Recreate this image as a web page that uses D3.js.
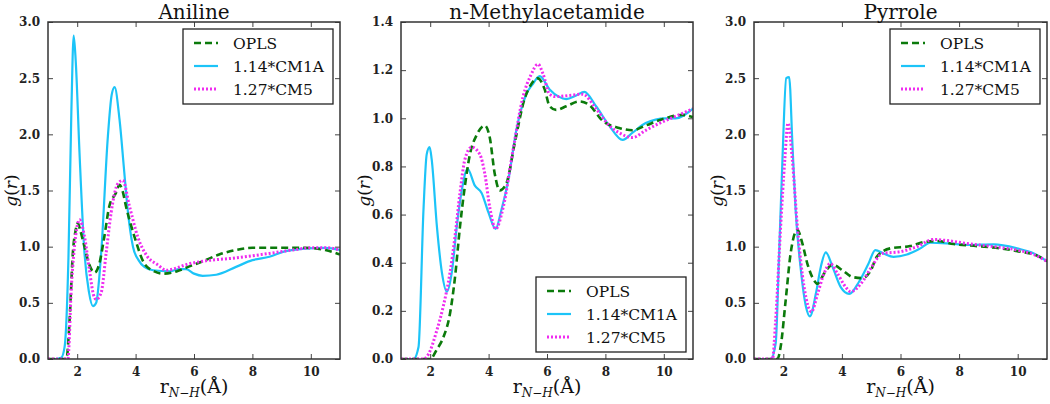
<!DOCTYPE html>
<html><head><meta charset="utf-8">
<script src="https://cdn.jsdelivr.net/npm/d3@7"></script>
<style>body{margin:0;background:#fff}svg{display:block}</style>
</head><body><svg id="c" width="1050" height="404"></svg>
<script>
const titles = ["Aniline", "n-Methylacetamide", "Pyrrole"];
const seriesNames = ["OPLS", "1.14*CM1A", "1.27*CM5"];
const xTicks = [2, 4, 6, 8, 10];
const yTicksA = [0, 0.5, 1.0, 1.5, 2.0, 2.5, 3.0];
const yTicksB = [0, 0.2, 0.4, 0.6, 0.8, 1.0, 1.2, 1.4];

const anilineOPLS = [[1,0],[1.25,0],[1.63,0],[1.74,0.35],[1.85,0.94],[1.95,1.15],[2.02,1.21],[2.1,1.15],[2.25,1.0],[2.4,0.85],[2.6,0.77],[2.76,0.85],[2.93,1.09],[3.1,1.36],[3.33,1.48],[3.45,1.55],[3.55,1.5],[3.67,1.36],[3.96,1.09],[4.3,0.85],[4.64,0.78],[4.94,0.76],[5.4,0.78],[5.8,0.82],[6.3,0.87],[6.86,0.93],[7.43,0.97],[8.0,0.99],[9.14,0.99],[9.8,0.99],[10.5,0.97],[11,0.93]];
const anilineCM1A = [[1,0],[1.25,0],[1.45,0.01],[1.57,0.11],[1.7,0.9],[1.8,2.2],[1.88,2.88],[1.95,2.65],[2.08,1.83],[2.25,0.94],[2.4,0.6],[2.54,0.47],[2.65,0.5],[2.82,0.94],[3.05,1.98],[3.18,2.35],[3.28,2.42],[3.45,2.13],[3.6,1.7],[3.72,1.35],[3.91,1.0],[4.1,0.88],[4.3,0.82],[4.6,0.79],[5.16,0.78],[5.5,0.8],[5.73,0.8],[6.0,0.76],[6.3,0.74],[6.76,0.75],[7.44,0.82],[8.0,0.88],[8.58,0.91],[9.14,0.96],[9.7,0.98],[10.5,0.99],[11,0.97]];
const anilineCM5 = [[1,0],[1.25,0],[1.68,0],[1.8,0.64],[1.95,1.1],[2.08,1.24],[2.25,1.09],[2.42,0.79],[2.55,0.58],[2.65,0.53],[2.82,0.59],[2.99,0.94],[3.16,1.3],[3.39,1.56],[3.56,1.59],[3.79,1.36],[4.07,1.09],[4.41,0.91],[4.75,0.84],[5.05,0.79],[5.4,0.81],[5.73,0.84],[6.3,0.87],[7.44,0.9],[8.58,0.94],[9.37,0.97],[10.05,0.99],[10.6,0.99],[11,0.97]];

const nmaOPLS = [[1,0],[1.25,0],[2.0,0],[2.23,0.04],[2.45,0.09],[2.68,0.19],[2.85,0.34],[3.02,0.55],[3.19,0.72],[3.36,0.85],[3.59,0.93],[3.87,0.97],[4.04,0.92],[4.21,0.77],[4.38,0.7],[4.61,0.73],[4.9,0.9],[5.23,1.08],[5.45,1.14],[5.69,1.166],[5.92,1.12],[6.09,1.05],[6.31,1.035],[6.66,1.05],[7.11,1.07],[7.45,1.055],[7.9,0.99],[8.47,0.96],[8.93,0.95],[9.38,0.97],[9.95,0.996],[10.63,1.014],[11,1.005]];
const nmaCM1A = [[1,0],[1.25,0],[1.43,0],[1.6,0.05],[1.77,0.62],[1.88,0.85],[1.98,0.88],[2.05,0.83],[2.23,0.55],[2.4,0.36],[2.57,0.28],[2.74,0.36],[2.91,0.55],[3.08,0.7],[3.28,0.79],[3.53,0.72],[3.76,0.69],[3.99,0.61],[4.24,0.54],[4.44,0.62],[4.67,0.74],[4.95,0.95],[5.29,1.1],[5.5,1.14],[5.75,1.175],[6.09,1.12],[6.4,1.09],[6.66,1.08],[7.0,1.095],[7.28,1.11],[7.68,1.05],[8.13,0.97],[8.59,0.91],[8.93,0.94],[9.38,0.98],[10.06,1.0],[10.4,1.0],[11,1.04]];
const nmaCM5 = [[1,0],[1.25,0],[1.77,0],[1.94,0.02],[2.23,0.12],[2.45,0.22],[2.68,0.36],[2.85,0.51],[3.02,0.69],[3.19,0.83],[3.42,0.88],[3.7,0.85],[3.87,0.77],[4.04,0.63],[4.24,0.54],[4.5,0.63],[4.84,0.87],[5.18,1.09],[5.45,1.18],[5.69,1.225],[5.86,1.186],[6.09,1.1],[6.31,1.09],[6.77,1.095],[7.22,1.1],[7.68,1.04],[8.13,0.97],[8.47,0.94],[8.93,0.92],[9.38,0.95],[9.95,0.985],[10.52,1.014],[11,1.04]];

const pyrroleOPLS = [[1,0],[1.25,0],[1.8,0],[1.91,0.11],[2.08,0.52],[2.25,0.94],[2.48,1.15],[2.65,1.03],[2.82,0.85],[3.05,0.7],[3.17,0.67],[3.39,0.76],[3.68,0.84],[4.02,0.79],[4.36,0.73],[4.7,0.72],[4.99,0.79],[5.19,0.91],[5.65,0.985],[6.33,1.005],[6.79,1.04],[7.25,1.05],[7.81,1.024],[8.61,1.005],[9.41,0.985],[10.09,0.955],[10.66,0.92],[11,0.87]];
const pyrroleCM1A = [[1,0],[1.25,0],[1.57,0],[1.74,0.14],[1.85,0.88],[1.97,1.77],[2.1,2.5],[2.2,2.51],[2.31,1.92],[2.42,1.33],[2.6,0.79],[2.77,0.47],[2.91,0.38],[3.11,0.58],[3.28,0.82],[3.45,0.95],[3.68,0.82],[3.96,0.64],[4.25,0.58],[4.59,0.69],[4.91,0.85],[5.14,0.97],[5.42,0.94],[5.76,0.91],[6.22,0.93],[6.68,0.985],[7.02,1.035],[7.59,1.03],[8.38,1.015],[9.18,1.02],[9.98,0.985],[10.55,0.94],[11,0.87]];
const pyrroleCM5 = [[1,0],[1.25,0],[1.63,0],[1.74,0.35],[1.91,1.18],[2.05,1.77],[2.16,2.1],[2.31,1.77],[2.48,1.18],[2.71,0.64],[2.96,0.42],[3.17,0.58],[3.39,0.76],[3.6,0.85],[3.85,0.76],[4.13,0.64],[4.3,0.6],[4.65,0.67],[4.99,0.81],[5.39,0.94],[5.99,0.955],[6.56,1.0],[7.13,1.065],[7.59,1.054],[8.38,1.024],[9.18,1.0],[9.98,0.97],[10.55,0.93],[11,0.87]];

const panels = [
  {title: titles[0], x0: 48, x1: 340, yMax: 3.0, yTicks: yTicksA, series: [anilineOPLS, anilineCM1A, anilineCM5], legend: {x: 183, y: 29}},
  {title: titles[1], x0: 401, x1: 693, yMax: 1.4, yTicks: yTicksB, series: [nmaOPLS, nmaCM1A, nmaCM5], legend: {x: 536, y: 277}},
  {title: titles[2], x0: 754, x1: 1047, yMax: 3.0, yTicks: yTicksA, series: [pyrroleOPLS, pyrroleCM1A, pyrroleCM5], legend: {x: 890, y: 29}}
];
const plotTop = 22, plotBottom = 359;
const styles = [
  {color: "#0b7a0b", dash: "7,4", width: 2.6},
  {color: "#1cc4f8", dash: null, width: 2.2},
  {color: "#f02cf0", dash: "2,2", width: 3.0}
];
const drawOrder = [1, 0, 2];
const svg = d3.select("#c");
const font = "'DejaVu Serif', serif";

panels.forEach((p, pi) => {
  const x = d3.scaleLinear().domain([1, 11]).range([p.x0, p.x1]);
  const y = d3.scaleLinear().domain([0, p.yMax]).range([plotBottom, plotTop]);
  const g = svg.append("g");
  const clipId = "clip" + pi;
  g.append("clipPath").attr("id", clipId).append("rect")
    .attr("x", p.x0).attr("y", plotTop).attr("width", p.x1 - p.x0).attr("height", plotBottom - plotTop);

  const line = d3.line().x(d => x(d[0])).y(d => y(d[1])).curve(d3.curveMonotoneX);
  const lg = g.append("g").attr("clip-path", `url(#${clipId})`);
  drawOrder.forEach(si => {
    const s = styles[si];
    lg.append("path").datum(p.series[si]).attr("d", line)
      .attr("fill", "none").attr("stroke", s.color).attr("stroke-width", s.width)
      .attr("stroke-dasharray", s.dash).attr("stroke-linejoin", "round");
  });

  const fmt = d3.format(".1f");
  const axB = d3.axisBottom(x).tickValues(xTicks).tickSize(-5).tickPadding(8).tickFormat(d3.format("d"));
  const axT = d3.axisTop(x).tickValues(xTicks).tickSize(-5).tickFormat("");
  const axL = d3.axisLeft(y).tickValues(p.yTicks).tickSize(-5).tickPadding(8).tickFormat(fmt);
  const axR = d3.axisRight(y).tickValues(p.yTicks).tickSize(-5).tickFormat("");
  [[axB, `translate(0,${plotBottom})`], [axT, `translate(0,${plotTop})`], [axL, `translate(${p.x0},0)`], [axR, `translate(${p.x1},0)`]].forEach(([ax, tr]) => {
    const a = g.append("g").attr("transform", tr).call(ax);
    a.select(".domain").remove();
    a.selectAll(".tick line").attr("stroke", "#444").attr("stroke-width", 1);
    a.selectAll(".tick text").attr("font-family", font).attr("font-size", 12).attr("fill", "#222").attr("font-weight", "bold");
  });
  g.append("rect").attr("x", p.x0).attr("y", plotTop).attr("width", p.x1 - p.x0).attr("height", plotBottom - plotTop)
    .attr("fill", "none").attr("stroke", "#333").attr("stroke-width", 1.5);

  g.append("text").attr("x", (p.x0 + p.x1) / 2).attr("y", 19).attr("text-anchor", "middle")
    .attr("font-family", font).attr("font-size", 20).attr("fill", "#111").text(p.title);

  const yl = g.append("text").attr("transform", `translate(${p.x0 - 31},${(plotTop + plotBottom) / 2}) rotate(-90)`)
    .attr("text-anchor", "middle").attr("font-family", font).attr("font-size", 17).attr("fill", "#111");
  yl.append("tspan").attr("font-style", "italic").text("g");
  yl.append("tspan").text("(");
  yl.append("tspan").attr("font-style", "italic").text("r");
  yl.append("tspan").text(")");

  const xl = g.append("text").attr("x", (p.x0 + p.x1) / 2).attr("y", 393).attr("text-anchor", "middle")
    .attr("font-family", font).attr("font-size", 19).attr("fill", "#111");
  xl.append("tspan").text("r");
  xl.append("tspan").attr("font-style", "italic").attr("font-size", 12).attr("dy", 4).text("N\u2212H");
  xl.append("tspan").attr("dy", -4).text("(\u00C5)");

  const L = p.legend;
  const lgd = g.append("g").attr("transform", `translate(${L.x},${L.y})`);
  lgd.append("rect").attr("width", 150).attr("height", 75).attr("fill", "#fff").attr("stroke", "#222").attr("stroke-width", 1.3);
  seriesNames.forEach((name, i) => {
    const s = styles[i];
    const yy = 14 + i * 23;
    lgd.append("line").attr("x1", 11).attr("x2", 35).attr("y1", yy).attr("y2", yy)
      .attr("stroke", s.color).attr("stroke-width", s.width).attr("stroke-dasharray", s.dash);
    lgd.append("text").attr("x", 50).attr("y", yy + 5.5).attr("font-family", font).attr("font-size", 15.5)
      .attr("fill", "#111").text(name);
  });
});
</script></body></html>
